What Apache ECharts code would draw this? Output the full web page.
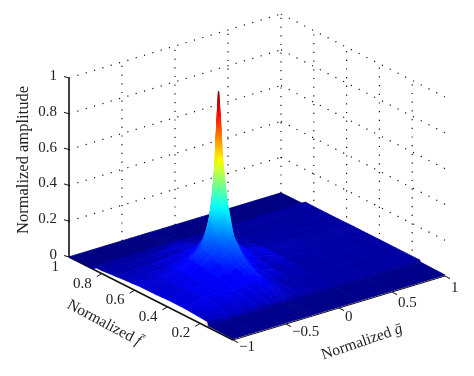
<!DOCTYPE html>
<html lang="en">
<head>
<meta charset="UTF-8"/>
<title>surface</title>
<script src="https://cdn.jsdelivr.net/npm/echarts@6/dist/echarts.min.js"></script>
<style>html,body{margin:0;background:#fff}</style>
</head>
<body>
<div id="main" style="width:474px;height:376px"></div>
<script>
// tick values and labels
var zTicks = [0.2, 0.4, 0.6, 0.8, 1];
var zTickLabels = ['0', '0.2', '0.4', '0.6', '0.8', '1'];
var fTicks = [1, 0.8, 0.6, 0.4, 0.2];
var fTickLabels = ['1', '0.8', '0.6', '0.4', '0.2'];
var gTicks = [-1, -0.5, 0, 0.5, 1];
var gTickLabels = ['\u22121', '\u22120.5', '0', '0.5', '1'];

// surface nodes, back row first
var gNodes = [-1, -0.8, -0.65, -0.52, -0.42, -0.35, -0.31, -0.285, -0.27, -0.255, -0.23, -0.19, -0.12, 0, 0.2, 0.5, 1];
var fNodes = [1, 0.855, 0.85, 0.8, 0.72, 0.65, 0.61, 0.585, 0.57, 0.56, 0.55, 0.535, 0.51, 0.47, 0.4, 0.3, 0.155, 0.15, 0];
// amplitude, one row per fNodes entry
var amplitude = [
[.001,.001,.001,.001,.001,.001,.001,.001,.001,.001,.001,.001,.001,.001,.001,.001,.001],
[.002,.002,.003,.003,.004,.005,.006,.007,.008,.007,.006,.005,.004,.004,.003,.003,.003],
[.016,.016,.016,.016,.017,.018,.019,.02,.022,.02,.019,.018,.017,.016,.016,.017,.018],
[.017,.017,.018,.02,.024,.028,.03,.032,.034,.032,.029,.026,.022,.018,.016,.016,.017],
[.024,.026,.03,.034,.04,.044,.047,.049,.05,.048,.045,.04,.032,.024,.018,.016,.017],
[.03,.033,.04,.05,.066,.085,.1,.115,.125,.112,.096,.078,.055,.034,.02,.017,.017],
[.032,.038,.05,.07,.1,.15,.2,.25,.29,.24,.19,.135,.08,.045,.024,.018,.017],
[.034,.042,.06,.085,.13,.2,.31,.41,.5,.39,.27,.17,.1,.055,.027,.019,.018],
[.036,.045,.065,.095,.15,.26,.43,.62,.82,.58,.36,.21,.12,.06,.028,.019,.018],
[.036,.046,.068,.1,.16,.3,.55,.85,1,.8,.46,.25,.13,.065,.03,.02,.018],
[.036,.046,.066,.098,.155,.27,.46,.68,.88,.64,.4,.22,.12,.062,.03,.02,.018],
[.036,.046,.065,.095,.145,.235,.37,.5,.63,.47,.32,.2,.105,.056,.028,.019,.018],
[.036,.046,.064,.09,.13,.19,.26,.34,.42,.33,.23,.15,.09,.05,.027,.019,.018],
[.036,.046,.063,.085,.11,.145,.18,.21,.235,.2,.16,.115,.07,.042,.025,.018,.018],
[.04,.05,.065,.08,.085,.1,.115,.13,.135,.115,.095,.07,.05,.033,.022,.018,.018],
[.04,.065,.07,.055,.06,.07,.08,.085,.085,.07,.055,.042,.032,.025,.02,.018,.018],
[.03,.035,.03,.03,.03,.03,.03,.03,.03,.028,.027,.024,.022,.02,.019,.018,.018],
[.009,.009,.009,.009,.009,.009,.009,.009,.009,.009,.008,.008,.008,.008,.008,.008,.008],
[.006,.006,.006,.006,.006,.006,.006,.006,.006,.006,.006,.006,.006,.006,.006,.006,.006]
];

var FONT = '"Liberation Serif", "Times New Roman", serif';

// 3d box -> picture plane
function project(f, g, z) {
    var a = 1 - f, b = (g + 1) / 2;
    return [69 + 164 * a + 212 * b, 257 + 83 * a - 64 * b - 179 * z];
}

// matlab jet
function jet(v) {
    v = Math.max(0, Math.min(1, v));
    function c(x) { return Math.round(255 * Math.max(0, Math.min(1, x))); }
    return 'rgb(' + c(1.5 - Math.abs(4 * v - 3)) + ',' + c(1.5 - Math.abs(4 * v - 2)) + ',' + c(1.5 - Math.abs(4 * v - 1)) + ')';
}
var colorStops = [[0, 0], [0.012, 0.02], [0.018, 0.035], [0.05, 0.1], [0.15, 0.19], [0.3, 0.3], [1, 1]];
function colorValue(z) {
    for (var n = 1; n < colorStops.length; n++) {
        if (z <= colorStops[n][0]) {
            var p = colorStops[n - 1], q = colorStops[n];
            return p[1] + (q[1] - p[1]) * (z - p[0]) / (q[0] - p[0]);
        }
    }
    return 1;
}

// walls
var wallLines = [];
zTicks.forEach(function (z) {
    wallLines.push([1, -1, z, 1, 1, z]);
    wallLines.push([1, 1, z, 0, 1, z]);
});
gTicks.slice(1).forEach(function (g) { wallLines.push([1, g, 0, 1, g, 1]); });
fTicks.slice(1).forEach(function (f) { wallLines.push([f, 1, 0, f, 1, 1]); });

var cells = [];
for (var i = 0; i < fNodes.length - 1; i++) {
    for (var j = gNodes.length - 2; j >= 0; j--) {
        cells.push([i, j]);
    }
}

function line3d(api, s) {
    var p = api.coord(project(s[0], s[1], s[2]));
    var q = api.coord(project(s[3], s[4], s[5]));
    return { x1: p[0], y1: p[1], x2: q[0], y2: q[1] };
}

function renderWall(params, api) {
    var s = wallLines[params.dataIndex];
    return { type: 'line', shape: line3d(api, s), style: { stroke: '#111', lineWidth: 1.2, lineDash: [1.2, 7.5] } };
}

function renderAxes(params, api) {
    var kids = [];
    function seg(p, q, w) {
        var a = api.coord(p), b = api.coord(q);
        kids.push({ type: 'line', shape: { x1: a[0], y1: a[1], x2: b[0], y2: b[1] }, style: { stroke: '#111', lineWidth: w } });
    }
    seg(project(1, -1, 0), project(0, -1, 0), 1.5);
    seg(project(0, -1, 0), project(0, 1, 0), 1);
    seg(project(1, -1, 0), project(1, -1, 1), 1.6);
    fTicks.slice(1).forEach(function (f) {
        var p = project(f, -1, 0);
        seg(p, [p[0] - 5, p[1] + 3], 1);
    });
    gTicks.forEach(function (g) {
        var p = project(0, g, 0);
        seg(p, [p[0] + 5, p[1] + 2.6], 1);
    });
    [0].concat(zTicks).forEach(function (z) {
        var p = project(1, -1, z);
        seg(p, [p[0] - 5, p[1] - 1.5], 1);
    });
    return { type: 'group', children: kids };
}

function renderCell(params, api) {
    var c = cells[params.dataIndex], i = c[0], j = c[1];
    var zs = [amplitude[i][j], amplitude[i][j + 1], amplitude[i + 1][j + 1], amplitude[i + 1][j]];
    var pts = [
        project(fNodes[i], gNodes[j], zs[0]),
        project(fNodes[i], gNodes[j + 1], zs[1]),
        project(fNodes[i + 1], gNodes[j + 1], zs[2]),
        project(fNodes[i + 1], gNodes[j], zs[3])
    ].map(function (p) { return api.coord(p); });
    var lo = colorValue(Math.min.apply(null, zs)), hi = colorValue(Math.max.apply(null, zs));
    var mean = (colorValue(zs[0]) + colorValue(zs[1]) + colorValue(zs[2]) + colorValue(zs[3])) / 4;
    var fill = jet(mean);
    if (hi - lo > 0.04) {
        var stops = [];
        for (var k = 0; k <= 6; k++) {
            stops.push({ offset: k / 6, color: jet(hi + (lo - hi) * k / 6) });
        }
        fill = new echarts.graphic.LinearGradient(0, 0, 0, 1, stops);
    }
    return { type: 'polygon', shape: { points: pts }, style: { fill: fill, stroke: fill, lineWidth: 0.8 } };
}

function renderText(params, api) {
    var kids = [];
    function label(text, p, align, rot, size, rich) {
        var a = api.coord(p);
        kids.push({
            type: 'text', x: a[0], y: a[1], rotation: rot || 0,
            style: { text: text, fill: '#222', align: align, verticalAlign: 'middle', font: (size || 15) + 'px ' + FONT, rich: rich }
        });
    }
    [0].concat(zTicks).forEach(function (z, n) {
        var p = project(1, -1, z);
        label(zTickLabels[n], [p[0] - 12, p[1] - 2], 'right');
    });
    fTicks.forEach(function (f, n) {
        var p = project(f, -1, 0);
        label(fTickLabels[n], [p[0] - 10, p[1] + 10], 'right');
    });
    gTicks.forEach(function (g, n) {
        var p = project(0, g, 0);
        label(gTickLabels[n], [p[0] + 6, p[1] + 9.5 + 2.5 * g], 'left');
    });
    var italic = { i: { font: 'italic 15.5px ' + FONT, fill: '#222' } };
    label('Normalized amplitude', [24, 160], 'center', Math.PI / 2, 16.5);
    label('Normalized {i|f\u0304}', [104, 323], 'center', -0.49, 15.5, italic);
    label('Normalized {i|g\u0304}', [362, 342], 'center', 0.33, 15.5, italic);
    return { type: 'group', children: kids };
}

var myChart = echarts.init(document.getElementById('main'));
function layer(data, fn, z) {
    return { type: 'custom', data: data, renderItem: fn, z: z, clip: false, silent: true, animation: false, progressive: 0 };
}
var option = {
    animation: false,
    backgroundColor: '#fff',
    grid: { left: 0, right: 0, top: 0, bottom: 0 },
    xAxis: { type: 'value', min: 0, max: 474, show: false },
    yAxis: { type: 'value', min: 0, max: 376, inverse: true, show: false },
    series: [
        layer(wallLines.map(function (s, n) { return [n, n]; }), renderWall, 1),
        layer([[0, 0]], renderAxes, 2),
        layer(cells, renderCell, 3),
        layer([[0, 0]], renderText, 4)
    ]
};
myChart.setOption(option);
</script>
</body>
</html>
